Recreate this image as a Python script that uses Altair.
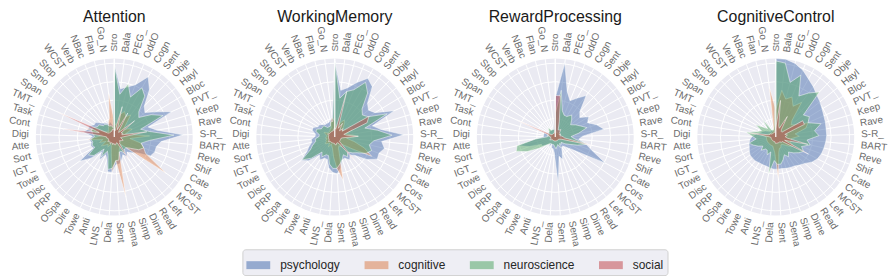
import math
import altair as alt
import pandas as pd

titles = ["Attention", "WorkingMemory", "RewardProcessing", "CognitiveControl"]
fields = ["psychology", "cognitive", "neuroscience", "social"]
colors = ["#4C72B0", "#DD8452", "#55A868", "#C44E52"]

categories = ["Stro", "Bala", "PEG_", "OddO", "Cogn", "Sent", "Obje", "Hayl", "Bloc", "PVT_",
              "Keep", "Rave", "S-R_", "BART", "Reve", "Shif", "Cate", "Cors", "MCST", "Left",
              "Read", "Dime", "Simp", "Sema", "Sent", "Dela", "LNS_", "Anti", "Towe", "Dire",
              "OSpa", "PRP", "Disc", "Towe", "IGT_", "Sort", "Atte", "Digi", "Cont", "Task",
              "TMT_", "Span", "Smo", "Stop", "WCST", "Verb", "NBac", "Flan", "Go_N"]

ring_ticks = [0.235, 0.47, 0.705, 0.94]

# Attention
att_psychology = [0.93, 0.62, 0.66, 0.72, 0.88, 0.75, 0.55, 0.5, 0.62, 0.8, 0.45, 0.55, 0.88, 0.6, 0.55, 0.55, 0.52, 0.35, 0.3, 0.25, 0.3, 0.25, 0.3, 0.35, 0.35, 0.45, 0.45, 0.3, 0.25, 0.35, 0.25, 0.4, 0.54, 0.3, 0.32, 0.3, 0.32, 0.28, 0.4, 0.35, 0.35, 0.3, 0.3, 0.25, 0.22, 0.2, 0.18, 0.2, 0.15]
att_cognitive = [0.2, 0.15, 0.3, 0.35, 0.3, 0.35, 0.2, 0.15, 0.2, 0.25, 0.15, 0.2, 0.45, 0.2, 0.35, 0.4, 0.45, 0.8, 0.2, 0.12, 0.15, 0.15, 0.2, 0.78, 0.3, 0.45, 0.2, 0.12, 0.1, 0.15, 0.12, 0.15, 0.2, 0.12, 0.2, 0.15, 0.35, 0.2, 0.15, 0.4, 0.2, 0.12, 0.12, 0.1, 0.12, 0.15, 0.2, 0.25, 0.56]
att_neuroscience = [0.92, 0.55, 0.7, 0.55, 0.72, 0.65, 0.45, 0.4, 0.55, 0.68, 0.35, 0.45, 0.76, 0.45, 0.35, 0.4, 0.35, 0.25, 0.2, 0.2, 0.25, 0.2, 0.2, 0.3, 0.3, 0.4, 0.42, 0.25, 0.2, 0.3, 0.2, 0.35, 0.4, 0.28, 0.3, 0.28, 0.3, 0.25, 0.28, 0.3, 0.3, 0.25, 0.25, 0.2, 0.2, 0.18, 0.15, 0.15, 0.12]
att_social = [0.1, 0.08, 0.4, 0.1, 0.35, 0.1, 0.08, 0.33, 0.1, 0.12, 0.1, 0.42, 0.12, 0.08, 0.1, 0.12, 0.1, 0.08, 0.1, 0.1, 0.35, 0.08, 0.08, 0.1, 0.1, 0.08, 0.1, 0.08, 0.08, 0.1, 0.08, 0.08, 0.1, 0.08, 0.08, 0.08, 0.1, 0.1, 0.67, 0.2, 0.79, 0.1, 0.08, 0.08, 0.08, 0.08, 0.08, 0.1, 0.1]

# WorkingMemory
wm_psychology = [0.97, 0.6, 0.65, 0.75, 0.86, 0.8, 0.6, 0.55, 0.6, 0.83, 0.5, 0.6, 0.88, 0.6, 0.65, 0.6, 0.61, 0.5, 0.35, 0.3, 0.35, 0.3, 0.3, 0.4, 0.47, 0.45, 0.4, 0.3, 0.3, 0.35, 0.3, 0.45, 0.52, 0.4, 0.35, 0.3, 0.3, 0.25, 0.25, 0.3, 0.3, 0.25, 0.25, 0.22, 0.2, 0.2, 0.2, 0.22, 0.25]
wm_cognitive = [0.2, 0.12, 0.15, 0.2, 0.25, 0.2, 0.15, 0.12, 0.2, 0.25, 0.15, 0.2, 0.3, 0.15, 0.25, 0.4, 0.53, 0.25, 0.15, 0.12, 0.15, 0.12, 0.15, 0.56, 0.4, 0.25, 0.15, 0.12, 0.1, 0.15, 0.1, 0.12, 0.15, 0.12, 0.12, 0.1, 0.12, 0.1, 0.1, 0.12, 0.15, 0.1, 0.1, 0.1, 0.1, 0.12, 0.12, 0.2, 0.25]
wm_neuroscience = [0.97, 0.5, 0.6, 0.65, 0.8, 0.7, 0.5, 0.45, 0.5, 0.73, 0.4, 0.55, 0.73, 0.5, 0.45, 0.5, 0.45, 0.35, 0.3, 0.25, 0.3, 0.25, 0.3, 0.35, 0.4, 0.4, 0.35, 0.25, 0.25, 0.3, 0.25, 0.4, 0.51, 0.35, 0.3, 0.25, 0.25, 0.2, 0.2, 0.25, 0.25, 0.2, 0.2, 0.2, 0.15, 0.15, 0.15, 0.2, 0.2]
wm_social = [0.12, 0.1, 0.6, 0.12, 0.2, 0.1, 0.15, 0.12, 0.51, 0.45, 0.12, 0.15, 0.3, 0.1, 0.08, 0.08, 0.08, 0.08, 0.08, 0.41, 0.1, 0.08, 0.08, 0.1, 0.1, 0.08, 0.08, 0.08, 0.08, 0.08, 0.08, 0.08, 0.1, 0.08, 0.08, 0.08, 0.08, 0.08, 0.08, 0.08, 0.1, 0.08, 0.08, 0.08, 0.08, 0.08, 0.08, 0.08, 0.1]

# RewardProcessing
rp_psychology = [0.5, 0.95, 0.6, 0.5, 0.57, 0.66, 0.45, 0.4, 0.5, 0.45, 0.55, 0.63, 0.35, 0.3, 0.4, 0.5, 0.72, 0.3, 0.2, 0.15, 0.15, 0.2, 0.3, 0.25, 0.62, 0.2, 0.15, 0.15, 0.1, 0.15, 0.1, 0.15, 0.2, 0.2, 0.35, 0.49, 0.25, 0.15, 0.15, 0.15, 0.15, 0.1, 0.1, 0.1, 0.1, 0.1, 0.1, 0.1, 0.15]
rp_cognitive = [0.08, 0.08, 0.06, 0.06, 0.06, 0.06, 0.06, 0.06, 0.06, 0.06, 0.06, 0.06, 0.06, 0.06, 0.45, 0.06, 0.06, 0.05, 0.05, 0.05, 0.05, 0.05, 0.05, 0.05, 0.05, 0.05, 0.05, 0.05, 0.05, 0.05, 0.05, 0.05, 0.05, 0.05, 0.05, 0.05, 0.05, 0.05, 0.05, 0.05, 0.5, 0.05, 0.05, 0.05, 0.05, 0.05, 0.05, 0.05, 0.06]
rp_neuroscience = [0.3, 0.6, 0.35, 0.3, 0.3, 0.35, 0.3, 0.25, 0.3, 0.35, 0.42, 0.3, 0.2, 0.25, 0.42, 0.3, 0.2, 0.15, 0.1, 0.12, 0.1, 0.15, 0.1, 0.12, 0.15, 0.12, 0.1, 0.1, 0.1, 0.1, 0.12, 0.15, 0.25, 0.4, 0.53, 0.5, 0.25, 0.1, 0.1, 0.1, 0.1, 0.1, 0.1, 0.12, 0.15, 0.1, 0.1, 0.1, 0.1]
rp_social = [0.53, 0.53, 0.2, 0.1, 0.1, 0.12, 0.08, 0.08, 0.06, 0.08, 0.06, 0.08, 0.1, 0.12, 0.49, 0.08, 0.06, 0.05, 0.05, 0.05, 0.05, 0.05, 0.05, 0.05, 0.05, 0.05, 0.05, 0.05, 0.05, 0.05, 0.05, 0.05, 0.06, 0.08, 0.06, 0.06, 0.06, 0.06, 0.1, 0.08, 0.54, 0.06, 0.05, 0.05, 0.05, 0.05, 0.05, 0.05, 0.08]

# CognitiveControl
cc_psychology = [1.0, 1.0, 0.97, 0.92, 0.85, 0.8, 0.75, 0.72, 0.69, 0.67, 0.66, 0.65, 0.65, 0.64, 0.63, 0.62, 0.6, 0.56, 0.5, 0.47, 0.44, 0.43, 0.42, 0.41, 0.41, 0.41, 0.4, 0.39, 0.39, 0.39, 0.4, 0.4, 0.4, 0.38, 0.36, 0.35, 0.33, 0.3, 0.25, 0.2, 0.18, 0.15, 0.12, 0.1, 0.1, 0.1, 0.08, 0.08, 0.08]
cc_cognitive = [0.35, 0.6, 0.5, 0.55, 0.45, 0.55, 0.3, 0.25, 0.3, 0.45, 0.4, 0.25, 0.3, 0.2, 0.2, 0.2, 0.25, 0.2, 0.15, 0.12, 0.12, 0.15, 0.15, 0.2, 0.54, 0.2, 0.15, 0.12, 0.12, 0.12, 0.12, 0.12, 0.12, 0.12, 0.12, 0.12, 0.12, 0.12, 0.2, 0.1, 0.1, 0.08, 0.08, 0.08, 0.08, 0.08, 0.08, 0.12, 0.64]
cc_neuroscience = [0.97, 0.95, 0.72, 0.85, 0.6, 0.7, 0.8, 0.45, 0.5, 0.45, 0.6, 0.5, 0.55, 0.4, 0.45, 0.35, 0.4, 0.35, 0.3, 0.25, 0.3, 0.25, 0.3, 0.35, 0.35, 0.3, 0.48, 0.2, 0.25, 0.2, 0.2, 0.25, 0.2, 0.25, 0.3, 0.35, 0.25, 0.3, 0.38, 0.25, 0.2, 0.3, 0.2, 0.15, 0.29, 0.1, 0.1, 0.1, 0.15]
cc_social = [0.12, 0.47, 0.15, 0.12, 0.3, 0.12, 0.1, 0.1, 0.4, 0.4, 0.12, 0.15, 0.12, 0.15, 0.42, 0.12, 0.47, 0.1, 0.1, 0.08, 0.08, 0.08, 0.08, 0.08, 0.08, 0.08, 0.06, 0.06, 0.06, 0.06, 0.06, 0.06, 0.06, 0.06, 0.06, 0.06, 0.06, 0.08, 0.35, 0.1, 0.08, 0.08, 0.06, 0.06, 0.06, 0.06, 0.06, 0.06, 0.08]

panel_values = {
    "Attention": [att_psychology, att_cognitive, att_neuroscience, att_social],
    "WorkingMemory": [wm_psychology, wm_cognitive, wm_neuroscience, wm_social],
    "RewardProcessing": [rp_psychology, rp_cognitive, rp_neuroscience, rp_social],
    "CognitiveControl": [cc_psychology, cc_cognitive, cc_neuroscience, cc_social],
}

N = len(categories)
PX = 79.0          # pixels per radial unit
W, H = 212, 262
XMAX = (W / 2) / PX
YMAX = 128 / PX
YMIN = -(H - 128) / PX
TWO_PI = 2 * math.pi

xs = alt.Scale(domain=[-XMAX, XMAX], nice=False, zero=False)
ys = alt.Scale(domain=[YMIN, YMAX], nice=False, zero=False)
color_scale = alt.Scale(domain=fields, range=colors)

cat_df = pd.DataFrame({"idx": list(range(N)), "label": categories, "n": N})
center_df = pd.DataFrame({"cx": [0.0], "cy": [0.0]})
ring_df = pd.DataFrame({"cx": 0.0, "cy": 0.0, "r": ring_ticks})

FONT = "Liberation Sans"


def panel(title):
    series = panel_values[title]
    rows = []
    for f, vals in zip(fields, series):
        for i in range(N + 1):
            rows.append({"field": f, "idx": i, "value": vals[i % N]})
    poly_df = pd.DataFrame(rows)

    X = lambda fld: alt.X(fld, scale=xs, axis=None)
    Y = lambda fld: alt.Y(fld, scale=ys, axis=None)

    disc = alt.Chart(center_df).mark_point(
        shape="circle", filled=True, opacity=1, color="#EAEAF2", size=(2 * PX) ** 2
    ).encode(x=X("cx:Q"), y=Y("cy:Q"))

    rings = alt.Chart(ring_df).transform_calculate(
        sz=f"pow(2 * datum.r * {PX}, 2)"
    ).mark_point(shape="circle", filled=False, stroke="white", strokeWidth=1, opacity=1).encode(
        x=X("cx:Q"), y=Y("cy:Q"), size=alt.Size("sz:Q", scale=None, legend=None)
    )

    spokes = alt.Chart(cat_df).transform_calculate(
        t=f"datum.idx * {TWO_PI} / datum.n",
        x0="0", y0="0",
        x1="sin(datum.t)", y1="cos(datum.t)",
    ).mark_rule(color="white", strokeWidth=1).encode(
        x=X("x0:Q"), y=Y("y0:Q"), x2="x1:Q", y2="y1:Q"
    )

    layers = [disc, rings, spokes]
    for k, f in enumerate(fields):
        leg = None
        if k == 0 and title == titles[0]:
            leg = alt.Legend(
                orient="none", legendX=235, legendY=241, direction="horizontal", title=None,
                fillColor="#EEEEF4", strokeColor="#D0D0D0", cornerRadius=3, padding=4,
                symbolType="M-1,-0.333H1V0.333H-1Z", symbolSize=576, symbolOpacity=0.55,
                symbolStrokeWidth=0, labelFontSize=12, labelFont=FONT, labelColor="#262626",
                labelOffset=10, columnPadding=24,
            )
        poly = alt.Chart(poly_df).transform_filter(
            alt.datum.field == f
        ).transform_calculate(
            t=f"datum.idx * {TWO_PI} / {N}",
            x="datum.value * sin(datum.t)",
            y="datum.value * cos(datum.t)",
        ).mark_line(
            fillOpacity=0.5, stroke="white", strokeOpacity=0.6, strokeWidth=0.8, interpolate="linear"
        ).encode(
            x=X("x:Q"), y=Y("y:Q"), order=alt.Order("idx:Q"),
            fill=alt.Fill("field:N", scale=color_scale, legend=leg),
        )
        layers.append(poly)

    zero_line = alt.Chart(cat_df).transform_filter(alt.datum.idx == 0).transform_calculate(
        x0="0", y0="0", x1="0", y1="1"
    ).mark_rule(color="white", strokeWidth=1.2).encode(
        x=X("x0:Q"), y=Y("y0:Q"), x2="x1:Q", y2="y1:Q"
    )
    layers.append(zero_line)

    lab_base = alt.Chart(cat_df).transform_calculate(
        deg=f"datum.idx * 360 / datum.n",
        t=f"datum.idx * {TWO_PI} / datum.n",
        x=f"{86 / PX} * sin(datum.t)",
        y=f"{86 / PX} * cos(datum.t)",
    )
    right = lab_base.transform_filter("datum.idx < datum.n / 2").transform_calculate(
        ang="(datum.deg - 90 + 360) % 360"
    ).mark_text(align="left", baseline="middle", fontSize=10, font=FONT, color="#6b6b6b").encode(
        x=X("x:Q"), y=Y("y:Q"), text="label:N", angle=alt.Angle("ang:Q", scale=None)
    )
    left = lab_base.transform_filter("datum.idx >= datum.n / 2").transform_calculate(
        ang="(datum.deg - 270 + 360) % 360"
    ).mark_text(align="right", baseline="middle", fontSize=10, font=FONT, color="#6b6b6b").encode(
        x=X("x:Q"), y=Y("y:Q"), text="label:N", angle=alt.Angle("ang:Q", scale=None)
    )
    layers += [right, left]

    ttl = alt.Chart(pd.DataFrame({"cx": [0.0], "name": [title]})).mark_text(
        fontSize=16, font=FONT, color="#1a1a1a", baseline="alphabetic", align="center"
    ).encode(x=X("cx:Q"), y=alt.value(12), text="name:N")
    layers.append(ttl)

    return alt.layer(*layers).properties(width=W, height=H)


chart = alt.hconcat(*[panel(t) for t in titles], spacing=10, bounds="flush").properties(
    padding=0, background="white"
).configure_view(strokeWidth=0, stroke="transparent")

chart.save("out.html", embed_options={"renderer": "svg", "actions": False})
